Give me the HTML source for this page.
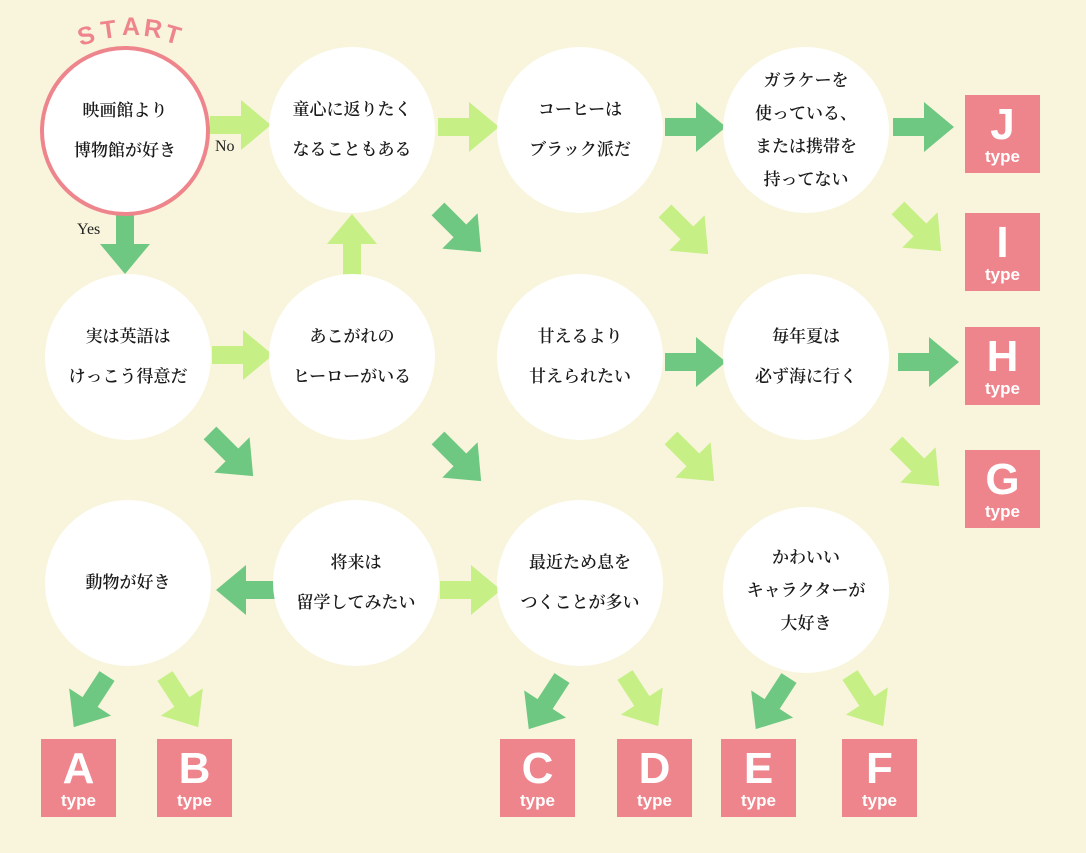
<!DOCTYPE html>
<html><head><meta charset="utf-8"><style>
body{margin:0;width:1086px;height:853px;background:#f8f5dc;position:relative;overflow:hidden;font-family:"Liberation Serif","Noto Serif CJK SC",serif}
.c{position:absolute;width:166px;height:166px;border-radius:50%;background:#fff;display:flex;align-items:center;justify-content:center;text-align:center;font-size:17px;font-weight:600;color:#1a1a1a;line-height:40px;box-sizing:border-box}
.b{position:absolute;width:75px;height:78px;background:#ef858c;color:#fff;text-align:center;font-family:"Liberation Sans","DejaVu Sans",sans-serif;font-weight:bold}
.b .l{font-size:44px;line-height:44px;margin-top:8px}
.b .t{font-size:17px;line-height:20px}
.lab{position:absolute;font-size:16px;color:#222}
.s{position:absolute;color:#ef858c;font-family:"Liberation Sans",sans-serif;font-weight:bold;font-size:25px}
svg{position:absolute;left:0;top:0}
</style></head><body>
<svg width="1086" height="853">
<defs>
<polygon id="a" points="0,-9 31,-9 31,-25 61,0 31,25 31,9 0,9"/>
</defs>
<g fill="#c6ef86">
<use href="#a" transform="translate(210,125)"/>
<use href="#a" transform="translate(438,127)"/>
<use href="#a" transform="translate(898,208) rotate(45)"/>
<use href="#a" transform="translate(665,211) rotate(45)"/>
<use href="#a" transform="translate(352,275) rotate(-90)"/>
<use href="#a" transform="translate(212,355)"/>
<use href="#a" transform="translate(896,443) rotate(45)"/>
<use href="#a" transform="translate(671,438) rotate(45)"/>
<use href="#a" transform="translate(440,590)"/>
<use href="#a" transform="translate(165,676) rotate(57)"/>
<use href="#a" transform="translate(625,675) rotate(57)"/>
<use href="#a" transform="translate(850,675) rotate(57)"/>
</g>
<g fill="#6fc882">
<use href="#a" transform="translate(125,213) rotate(90)"/>
<use href="#a" transform="translate(665,127)"/>
<use href="#a" transform="translate(893,127)"/>
<use href="#a" transform="translate(438,209) rotate(45)"/>
<use href="#a" transform="translate(665,362)"/>
<use href="#a" transform="translate(898,362)"/>
<use href="#a" transform="translate(438,438) rotate(45)"/>
<use href="#a" transform="translate(210,433) rotate(45)"/>
<use href="#a" transform="translate(277,590) rotate(180)"/>
<use href="#a" transform="translate(107,676) rotate(123)"/>
<use href="#a" transform="translate(562,678) rotate(123)"/>
<use href="#a" transform="translate(789,678) rotate(123)"/>
</g>
</svg>
<span class="s" style="left:78px;top:22px;transform:rotate(-16deg)">S</span>
<span class="s" style="left:101px;top:16px;transform:rotate(-8deg)">T</span>
<span class="s" style="left:122px;top:13px">A</span>
<span class="s" style="left:144px;top:15px;transform:rotate(8deg)">R</span>
<span class="s" style="left:165px;top:21px;transform:rotate(16deg)">T</span>
<div class="c" style="left:40px;top:46px;width:170px;height:170px;border:4px solid #ef858c">映画館より<br>博物館が好き</div>
<div class="c" style="left:269px;top:47px">童心に返りたく<br>なることもある</div>
<div class="c" style="left:497px;top:47px">コーヒーは<br>ブラック派だ</div>
<div class="c" style="left:723px;top:47px;line-height:33px">ガラケーを<br>使っている、<br>または携帯を<br>持ってない</div>
<div class="c" style="left:45px;top:274px">実は英語は<br>けっこう得意だ</div>
<div class="c" style="left:269px;top:274px">あこがれの<br>ヒーローがいる</div>
<div class="c" style="left:497px;top:274px">甘えるより<br>甘えられたい</div>
<div class="c" style="left:723px;top:274px">毎年夏は<br>必ず海に行く</div>
<div class="c" style="left:45px;top:500px">動物が好き</div>
<div class="c" style="left:273px;top:500px">将来は<br>留学してみたい</div>
<div class="c" style="left:497px;top:500px">最近ため息を<br>つくことが多い</div>
<div class="c" style="left:723px;top:507px;line-height:33px">かわいい<br>キャラクターが<br>大好き</div>
<div class="lab" style="left:215px;top:138px">No</div>
<div class="lab" style="left:77px;top:221px">Yes</div>
<div class="b" style="left:965px;top:95px"><div class="l">J</div><div class="t">type</div></div>
<div class="b" style="left:965px;top:213px"><div class="l">I</div><div class="t">type</div></div>
<div class="b" style="left:965px;top:327px"><div class="l">H</div><div class="t">type</div></div>
<div class="b" style="left:965px;top:450px"><div class="l">G</div><div class="t">type</div></div>
<div class="b" style="left:41px;top:739px"><div class="l">A</div><div class="t">type</div></div>
<div class="b" style="left:157px;top:739px"><div class="l">B</div><div class="t">type</div></div>
<div class="b" style="left:500px;top:739px"><div class="l">C</div><div class="t">type</div></div>
<div class="b" style="left:617px;top:739px"><div class="l">D</div><div class="t">type</div></div>
<div class="b" style="left:721px;top:739px"><div class="l">E</div><div class="t">type</div></div>
<div class="b" style="left:842px;top:739px"><div class="l">F</div><div class="t">type</div></div>
</body></html>
